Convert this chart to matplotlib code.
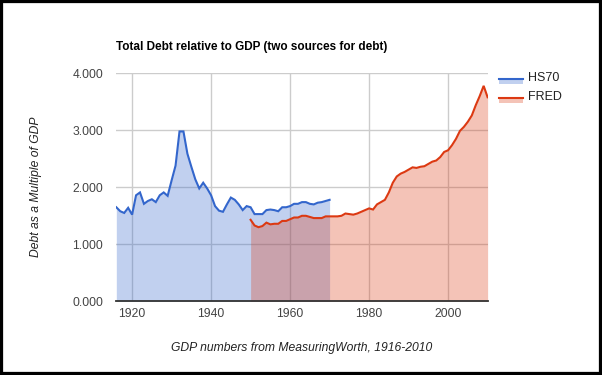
import matplotlib.pyplot as plt
from matplotlib.patches import Rectangle
from matplotlib.lines import Line2D
import numpy as np

# --- data ---
hs70_years = np.arange(1916, 1971)
hs70_values = [1.65, 1.58, 1.55, 1.64, 1.52, 1.86, 1.91, 1.71, 1.76, 1.79,
               1.74, 1.86, 1.91, 1.85, 2.12, 2.38, 2.98, 2.98, 2.59, 2.36,
               2.14, 1.98, 2.08, 1.98, 1.86, 1.67, 1.59, 1.57, 1.70, 1.82,
               1.78, 1.70, 1.60, 1.67, 1.65, 1.53, 1.53, 1.53, 1.60, 1.61,
               1.60, 1.58, 1.65, 1.65, 1.67, 1.71, 1.71, 1.74, 1.74, 1.71,
               1.70, 1.73, 1.74, 1.76, 1.78]

fred_years = np.arange(1950, 2011)
fred_values = [1.43, 1.33, 1.30, 1.32, 1.38, 1.35, 1.36, 1.36, 1.41, 1.41,
               1.44, 1.47, 1.47, 1.50, 1.50, 1.48, 1.46, 1.46, 1.46, 1.49,
               1.49, 1.49, 1.49, 1.50, 1.54, 1.53, 1.52, 1.54, 1.57, 1.60,
               1.63, 1.61, 1.70, 1.74, 1.78, 1.91, 2.08, 2.19, 2.24, 2.27,
               2.31, 2.35, 2.34, 2.36, 2.37, 2.41, 2.45, 2.47, 2.53, 2.62,
               2.65, 2.74, 2.85, 2.99, 3.06, 3.15, 3.26, 3.44, 3.60, 3.78,
               3.58]

series_names = ['HS70', 'FRED']
series_colors = ['#3366cc', '#dc3912']
x_ticks = [1920, 1940, 1960, 1980, 2000]
y_ticks = [0, 1, 2, 3, 4]

plt.rcParams['font.family'] = ['Liberation Sans', 'DejaVu Sans']

W, H = 602, 375
fig = plt.figure(figsize=(W / 100, H / 100), dpi=100)

# plot area in pixels: left 116, right 487.5, top 73, bottom 301
ax = fig.add_axes([116.3 / W, 1 - 301.3 / H, (487.6 - 116.3) / W, (301.3 - 73.3) / H])

for yrs, vals, col in zip([hs70_years, fred_years], [hs70_values, fred_values], series_colors):
    ax.fill_between(yrs, vals, 0, color=col, alpha=0.3, linewidth=0, zorder=2)
for yrs, vals, col in zip([hs70_years, fred_years], [hs70_values, fred_values], series_colors):
    ax.plot(yrs, vals, color=col, linewidth=1.5, zorder=3, solid_joinstyle='miter')

ax.set_xlim(1916, 2010)
ax.set_ylim(0, 4)
ax.set_xticks(x_ticks)
ax.set_yticks(y_ticks)
ax.set_yticklabels([f'{v:.3f}' for v in y_ticks])
ax.grid(True, color='#cccccc', linewidth=1, zorder=1)
ax.set_axisbelow(True)
ax.axhline(0, color='#333333', linewidth=1.3, zorder=4, clip_on=False)
for s in ax.spines.values():
    s.set_visible(False)
ax.tick_params(length=0, labelsize=8.7, colors='#444444')
ax.tick_params(axis='y', pad=9.5)
ax.tick_params(axis='x', pad=5)

ax.set_xlabel('GDP numbers from MeasuringWorth, 1916-2010', fontstyle='italic',
              fontsize=8.7, color='#222222', labelpad=16)
fig.text(36 / W, 1 - 187 / H, 'Debt as a Multiple of GDP', rotation=90, fontstyle='italic',
         fontsize=8.7, color='#222222', ha='center', va='center')
fig.text(116 / W, 1 - 47.3 / H, 'Total Debt relative to GDP (two sources for debt)',
         fontweight='bold', fontsize=8.45, color='black', ha='left', va='center')

# legend drawn by hand (line over a light swatch)
for i, (name, col) in enumerate(zip(series_names, series_colors)):
    yl = 78.5 + i * 19
    fig.patches.append(Rectangle((499 / W, 1 - (yl + 5.5) / H), 23.5 / W, 5.5 / H,
                                 transform=fig.transFigure, facecolor=col, alpha=0.3,
                                 linewidth=0))
    fig.lines.append(Line2D([499 / W, 522.5 / W], [1 - yl / H, 1 - yl / H],
                            transform=fig.transFigure, color=col, linewidth=1.5))
    fig.text(528 / W, 1 - (yl - 0.5) / H, name, fontsize=9, color='#222222',
             ha='left', va='center')

# black frame around the picture
fig.patches.append(Rectangle((0, 0), 1, 1, transform=fig.transFigure, fill=False,
                             edgecolor='black', linewidth=4.5))

fig.savefig('out.png', dpi=100)
